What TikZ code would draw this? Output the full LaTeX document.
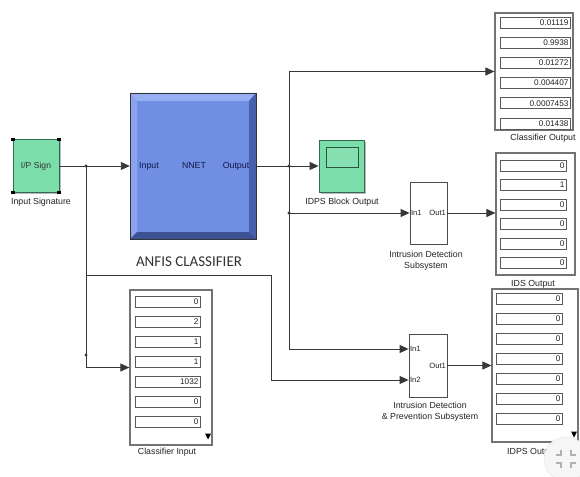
\documentclass[tikz,border=0pt]{standalone}
\usepackage{fontspec}
\setmainfont{Liberation Sans}
\newfontfamily\calfont{Carlito}
\usetikzlibrary{arrows.meta}
\definecolor{blkgreen}{RGB}{122,221,170}
\definecolor{greenedge}{RGB}{50,105,80}
\definecolor{anfisface}{RGB}{112,142,226}
\definecolor{anfislight}{RGB}{152,174,242}
\definecolor{anfisdark}{RGB}{72,96,172}
\definecolor{wire}{RGB}{55,55,55}
\definecolor{txt}{RGB}{35,35,35}
\definecolor{navy}{RGB}{20,25,70}
\begin{document}
\begin{tikzpicture}[x=1pt,y=-1pt,
  wirestyle/.style={draw=wire, line width=0.9pt},
  arr/.style={wirestyle,-{Triangle[length=9pt,width=8pt]}},
  lbl/.style={font=\fontsize{8.8}{10.6}\selectfont, text=txt, inner sep=0pt, align=center},
  small/.style={font=\fontsize{8}{9}\selectfont, text=txt, inner sep=0pt},
  greenblk/.style={draw=greenedge, fill=blkgreen, line width=0.8pt, inner sep=0pt},
  subsys/.style={draw=black!70, fill=white, line width=0.8pt, inner sep=0pt},
  dispbox/.style={draw=black!55, fill=white, line width=1.2pt, inner sep=0pt},
  fieldbox/.style={draw=black!65, fill=white, line width=0.7pt, minimum height=11pt,
    text width=#1, align=right, inner sep=1.6pt, font=\fontsize{8.2}{9}\selectfont, text=txt},
  shadowbox/.style={fill=gray!55},
  dot/.style={fill=wire}
]
\useasboundingbox (0,0) rectangle (580,476);
\fill[white] (0,0) rectangle (580,476);

% ---------- Input Signature ----------
\fill[shadowbox] (15,141) rectangle (61,194);
\node[greenblk, minimum width=46pt, minimum height=53pt] (ips) at (36,166)
  {\fontsize{8.6}{10}\selectfont\color{black!80}I/P Sign};
\foreach \p in {(13,139.5),(59,139.5),(13,192.5),(59,192.5)}
  \fill[black] \p ++(-1.6,-1.6) rectangle ++(3.2,3.2);
\node[lbl] (ipslbl) at (41,202) {Input Signature};

% ---------- ANFIS block ----------
\node[minimum width=126pt, minimum height=146pt, inner sep=0pt] (anfis) at (193,166) {};
\fill[anfisface] (130,93) rectangle (256,239);
\fill[anfislight] (130,93) -- (256,93) -- (249,101) -- (137,101) -- cycle;
\fill[anfislight!70!anfisface] (130,93) -- (137,101) -- (137,232) -- (130,239) -- cycle;
\fill[anfisdark] (256,93) -- (256,239) -- (249,232) -- (249,101) -- cycle;
\fill[anfisdark!85!black] (130,239) -- (256,239) -- (249,232) -- (137,232) -- cycle;
\draw[black!80, line width=0.8pt] (130,93) rectangle (256,239);
\node[small, text=navy, font=\fontsize{8.8}{10}\selectfont] (ain) at (149,166) {Input};
\node[small, text=navy, font=\fontsize{8.8}{10}\selectfont] (anet) at (194,165) {NNET};
\node[small, text=navy, font=\fontsize{8.8}{10}\selectfont] (aout) at (236,166) {Output};
\node[inner sep=0pt, text=black!80] (anfislbl) at (189,262) {\calfont\fontsize{15}{17}\selectfont ANFIS CLASSIFIER};

% ---------- Scope ----------
\fill[shadowbox] (321,142) rectangle (366,194);
\node[greenblk, minimum width=45pt, minimum height=52pt] (scope) at (341.5,166) {};
\draw[greenedge!80!black, line width=0.9pt, fill=blkgreen!90!white] (326,147) rectangle (358,167);
\node[lbl] (scopelbl) at (342,202) {IDPS Block Output};

% ---------- Subsystems ----------
\node[subsys, minimum width=37pt, minimum height=62pt] (ids) at (428.5,213) {};
\node[small, anchor=west, font=\fontsize{7.6}{9}\selectfont] (idsin) at (ids.west) {\,In1};
\node[small, anchor=east, font=\fontsize{7.6}{9}\selectfont] (idsout1) at (ids.east) {Out1\,};
\node[lbl] (idslbl) at (426,261) {Intrusion Detection\\Subsystem};

\node[subsys, minimum width=38pt, minimum height=63pt] (idps) at (428,365.5) {};
\coordinate (in1) at (idps.west |- 0,349);
\coordinate (in2) at (idps.west |- 0,380);
\node[small, anchor=west, font=\fontsize{7.6}{9}\selectfont] (idpsin1) at (in1) {\,In1};
\node[small, anchor=west, font=\fontsize{7.6}{9}\selectfont] (idpsin2) at (in2) {\,In2};
\node[small, anchor=east, font=\fontsize{7.6}{9}\selectfont] (idpsout1) at (idps.east) {Out1\,};
\node[lbl] (idpslbl) at (430,412) {Intrusion Detection\\\& Prevention Subsystem};

% ---------- Displays ----------
\node[dispbox, minimum width=78pt, minimum height=117pt] (clsout) at (534,71.5) {};
\foreach \v [count=\i from 0] in {0.01119,0.9938,0.01272,0.004407,0.0007453,0.01438}
  \node[fieldbox=66.8pt] (co\i) at (535,22.5+20.2*\i) {\v};
\node[lbl] (clsoutlbl) at (543,138) {Classifier Output};

\node[dispbox, minimum width=79pt, minimum height=122pt] (idsout) at (535.5,214) {};
\foreach \v [count=\i from 0] in {0,1,0,0,0,0}
  \node[fieldbox=62.8pt] (io\i) at (533,165.5+19.5*\i) {\v};
\node[lbl] (idsoutlbl) at (533,284) {IDS Output};

\node[dispbox, minimum width=82pt, minimum height=155pt] (clsin) at (171,367.5) {};
\foreach \v [count=\i from 0] in {0,2,1,1,1032,0,0}
  \node[fieldbox=61.8pt] (ci\i) at (167.5,302+20*\i) {\v};
\fill[black] (205,433.5) -- (211,433.5) -- (208,439.5) -- cycle;
\node[lbl] (clsinlbl) at (167,452) {Classifier Input};

\node[dispbox, minimum width=86pt, minimum height=153pt] (idpsout) at (535,365.5) {};
\foreach \v [count=\i from 0] in {0,0,0,0,0,0,0}
  \node[fieldbox=62.8pt] (po\i) at (529,299+19.9*\i) {\v};
\fill[black] (571,431.5) -- (577,431.5) -- (574,437.5) -- cycle;
\node[lbl, anchor=west] (idpsoutlbl) at (507,452) {IDPS Output};

% ---------- Connectors ----------
\coordinate (j1) at (86,166);
\coordinate (b1) at (86,275);
\coordinate (j2) at (289,166);
\coordinate (j3) at (289,213);
\draw[arr] (ips.east) -- (anfis.west);
\draw[arr] (j1) |- (clsin.west);
\draw[arr] (b1) -- (271,275) -- (271,380) -- (in2);
\draw[arr] (anfis.east) -- (scope.west);
\draw[arr] (j2) |- (clsout.west);
\draw[arr] (j3) -- (ids.west |- j3);
\draw[arr] (j2) |- (in1);
\draw[arr] (ids.east) -- (ids.east -| idsout.west);
\draw[arr] (idps.east) -- (idps.east -| idpsout.west);
\foreach \c in {(j1),(j2),(j3),(86,355)}
  \fill[dot] \c circle (1.6);

% ---------- overlay icon ----------
\fill[gray!7] (566,459) circle (22);
\draw[gray!18, line width=0.6pt] (566,459) circle (22);
\draw[gray!60, line width=1.2pt]
  (556,455) -- (561,455) -- (561,450)
  (571,450) -- (571,455) -- (576,455)
  (556,463) -- (561,463) -- (561,468)
  (576,463) -- (571,463) -- (571,468);
\end{tikzpicture}
\end{document}
